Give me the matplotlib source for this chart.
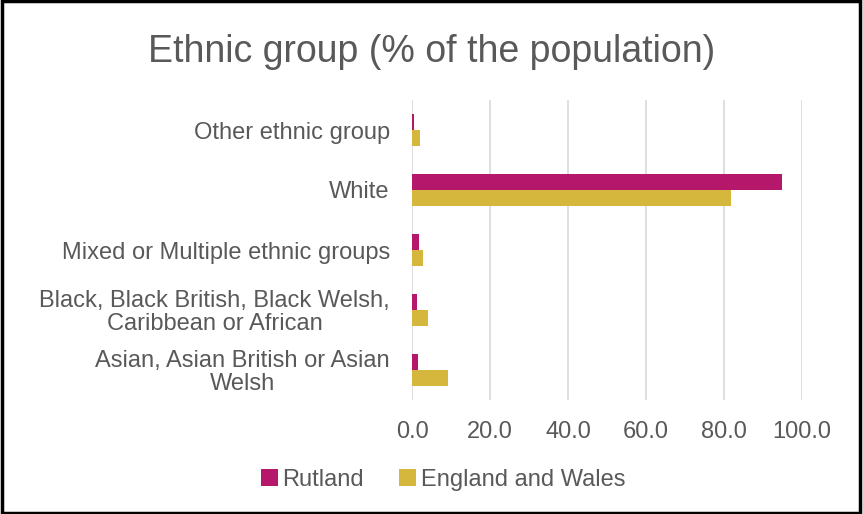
import matplotlib
matplotlib.use("Agg")
from matplotlib import pyplot as plt
from matplotlib.patches import Rectangle
import numpy as np

# data (bottom to top)
categories = ["Asian, Asian British or Asian\nWelsh",
              "Black, Black British, Black Welsh,\nCaribbean or African",
              "Mixed or Multiple ethnic groups",
              "White",
              "Other ethnic group"]
rutland = [1.5, 1.2, 1.7, 94.8, 0.5]
england_wales = [9.3, 4.0, 2.9, 81.7, 2.1]
x_ticks = [0, 20, 40, 60, 80, 100]

c_rut = "#B5186B"
c_ew = "#D6B73D"
grey = "#595959"

plt.rcParams["font.family"] = ["Liberation Sans", "DejaVu Sans"]

fig = plt.figure(figsize=(8.63, 5.14), dpi=100)
ax = fig.add_axes([412 / 863, 1 - 400 / 514, 390 / 863, 300 / 514])

y = np.arange(len(categories))
h = 0.26
ax.barh(y + h / 2, rutland, height=h, color=c_rut, label="Rutland")
ax.barh(y - h / 2, england_wales, height=h, color=c_ew, label="England and Wales")

ax.set_xlim(0, 100)
ax.set_ylim(-0.5, len(categories) - 0.5)
ax.set_xticks(x_ticks)
ax.set_xticklabels(["%.1f" % v for v in x_ticks])
ax.set_yticks(y)
ax.set_yticklabels(categories, multialignment="center", linespacing=1.05)
ax.tick_params(axis="x", length=0, pad=15, labelsize=17, colors=grey)
ax.tick_params(axis="y", length=0, pad=16, labelsize=17, colors=grey)
ax.grid(axis="x", color="#D9D9D9", linewidth=1.2)
ax.set_axisbelow(True)
for s in ax.spines.values():
    s.set_visible(False)

fig.text(0.5, 1 - 52 / 514, "Ethnic group (% of the population)",
         ha="center", va="center", fontsize=27, color=grey)

fig.legend(loc="center", bbox_to_anchor=(443 / 863, 1 - 480 / 514), ncol=2,
           frameon=False, fontsize=17, labelcolor=grey, handlelength=0.7,
           handleheight=0.7, handletextpad=0.2, columnspacing=1.5)

fig.patches.append(Rectangle((0.002, 0.002), 0.995, 0.996, transform=fig.transFigure,
                             fill=False, edgecolor="black", linewidth=2.5))

fig.savefig("out.png", dpi=100)
